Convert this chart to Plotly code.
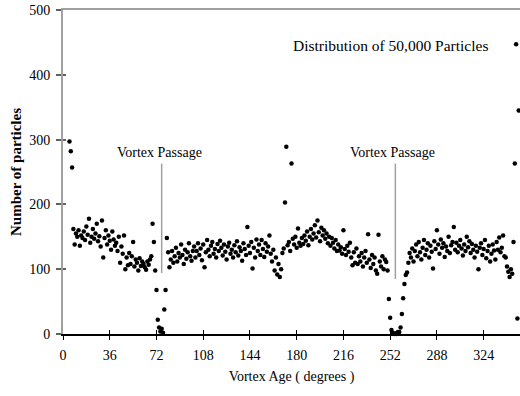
import plotly.graph_objects as go

# Vortex age (degrees), one sample per degree
degrees = list(range(5, 352))

particles = (
    [297, 282, 257]                                                                 # 5-7
    + [162, 138, 155, 150, 160, 136, 152, 148, 158, 145, 166, 153]                  # 8-19
    + [178, 141, 150, 162, 147, 155, 170, 143, 151, 135, 175, 118, 148, 160, 138, 152]  # 20-35
    + [144, 130, 158, 146, 136, 141, 128, 150, 110, 135, 124, 152, 100, 118, 106]   # 36-50
    + [125, 108, 120, 142, 104, 115, 110, 98, 117, 105, 112, 108, 103, 99, 112, 107, 115, 120]  # 51-68
    + [170, 142, 98, 68, 22, 10, 4, 8, 2, 38, 68, 148, 126, 103]                    # 69-82
    + [115, 128, 110, 120, 133, 112, 125, 118, 138, 122, 108, 130, 116, 126, 140, 120, 113, 128]  # 83-100
    + [135, 118, 128, 140, 122, 132, 114, 138, 103, 126,
       145, 130, 120, 136, 142, 124, 131, 118, 139, 128,
       144, 133, 121, 138, 127, 115, 135, 141, 124, 130,
       118, 137, 126, 143, 121, 134, 128, 113, 140, 131,
       122, 165, 136, 125, 142, 101, 133, 118, 146, 128]                              # 101-150
    + [138, 122, 145, 131, 119, 140, 127, 135, 152, 124,
       112, 130, 98, 118, 92, 108, 88, 100, 125, 132]                                 # 151-170
    + [203, 289, 137, 142, 128, 263, 147]                                             # 171-177
    + [138, 150, 133, 163, 141, 136, 148, 139, 152, 144,
       158, 137, 150, 162, 146, 155, 168, 149, 175, 157,
       143, 164, 152]                                                                 # 178-200
    + [160, 147, 155, 140, 150, 136, 148, 141, 132, 145,
       128, 138, 129, 134, 124, 160, 131, 122, 136, 127,
       141, 118, 106, 126, 110, 132, 108, 120, 112, 125,
       104, 118, 128, 110, 154, 115, 102, 122, 108, 118,
       98, 93, 153, 112, 104, 120, 100, 115, 111, 98]                                 # 201-250
    + [54, 25, 6, 2, 0, 1, 0, 3, 3, 10, 31, 55, 77, 91, 95, 110]                     # 251-266
    + [125, 118, 132, 112, 128, 138, 120, 142, 126, 115,
       133, 145, 122, 130, 140, 118, 136, 127, 101, 143,
       131, 160, 138, 124, 146, 133, 140, 119, 135, 128,
       150, 125, 137, 142]                                                            # 267-300
    + [165, 130, 141, 126, 136, 145, 132, 121, 138, 128,
       150, 134, 143, 125, 139, 130, 118, 136, 127, 100,
       133, 140, 122, 131, 145, 117, 128, 136, 112, 124,
       138, 129, 115, 142, 130, 149, 126, 133, 152, 120]                              # 301-340
    + [118, 104, 96, 88, 100, 93, 142, 263, 447, 24, 345]                             # 341-351
)
assert len(particles) == len(degrees)

x_ticks = [0, 36, 72, 108, 144, 180, 216, 252, 288, 324]
y_ticks = [0, 100, 200, 300, 400, 500]

passage_x = [76, 256]
passage_line_bottom = [94, 85]
passage_label = "Vortex Passage"
passage_label_y = 265
note_text = "Distribution of 50,000 Particles"
note_x, note_y = 252, 445

SERIF = "Liberation Serif"
GRAY = "#a0a0a0"

fig = go.Figure()
fig.add_trace(go.Scatter(
    x=degrees, y=particles, mode="markers",
    marker=dict(color="black", size=4.5),
    cliponaxis=False, showlegend=False, hoverinfo="skip",
))
# helper traces so the overlay axes (cross ticks, top frame) are drawn
fig.add_trace(go.Scatter(x=[None], y=[None], xaxis="x2", yaxis="y2", showlegend=False))
fig.add_trace(go.Scatter(x=[None], y=[None], xaxis="x3", yaxis="y", showlegend=False))

for px, pb in zip(passage_x, passage_line_bottom):
    fig.add_shape(type="line", xref="x", yref="y", x0=px, x1=px, y0=pb, y1=passage_label_y - 2,
                  line=dict(color=GRAY, width=1.5))
    fig.add_annotation(x=px - 2, y=passage_label_y, xref="x", yref="y", text=passage_label,
                       showarrow=False, yanchor="bottom", xanchor="center",
                       font=dict(family=SERIF, size=14, color="black"))

fig.add_annotation(x=note_x, y=note_y, xref="x", yref="y", text=note_text, showarrow=False,
                   xanchor="center", yanchor="middle",
                   font=dict(family=SERIF, size=15.5, color="black"))

fig.update_layout(
    width=520, height=396,
    margin=dict(l=63, r=0, t=10, b=62),
    paper_bgcolor="white", plot_bgcolor="white",
    font=dict(family=SERIF, color="black"),
    xaxis=dict(
        range=[0, 352], tickmode="array", tickvals=x_ticks,
        ticks="outside", ticklen=4, tickwidth=1, tickcolor="black",
        showline=True, linecolor="black", linewidth=1.5,
        showgrid=False, zeroline=False,
        tickfont=dict(family=SERIF, size=14, color="black"),
        ticklabelstandoff=3,
        title=dict(text="Vortex Age ( degrees )", standoff=10,
                   font=dict(family=SERIF, size=14, color="black")),
    ),
    xaxis2=dict(
        overlaying="x", side="bottom", range=[0, 352], tickmode="array", tickvals=x_ticks,
        ticks="inside", ticklen=4, tickwidth=1, tickcolor="black",
        showline=False, showgrid=False, zeroline=False, showticklabels=False,
    ),
    xaxis3=dict(
        overlaying="x", side="top", range=[0, 352],
        ticks="", showline=True, linecolor=GRAY, linewidth=2,
        showgrid=False, zeroline=False, showticklabels=False,
    ),
    yaxis=dict(
        range=[0, 500], tickmode="array", tickvals=y_ticks,
        ticks="outside", ticklen=5, tickwidth=1.5, tickcolor="#606060",
        showline=True, linecolor=GRAY, linewidth=2,
        showgrid=False, zeroline=False,
        tickfont=dict(family=SERIF, size=14, color="black"),
        ticklabelstandoff=3,
        title=dict(text="<b>Number of particles</b>", standoff=4,
                   font=dict(family=SERIF, size=15, color="black")),
    ),
    yaxis2=dict(
        overlaying="y", side="left", range=[0, 500], tickmode="array", tickvals=y_ticks,
        ticks="inside", ticklen=3, tickwidth=1.5, tickcolor="#606060",
        showline=False, showgrid=False, zeroline=False, showticklabels=False,
    ),
)

fig.write_html("out.html")
